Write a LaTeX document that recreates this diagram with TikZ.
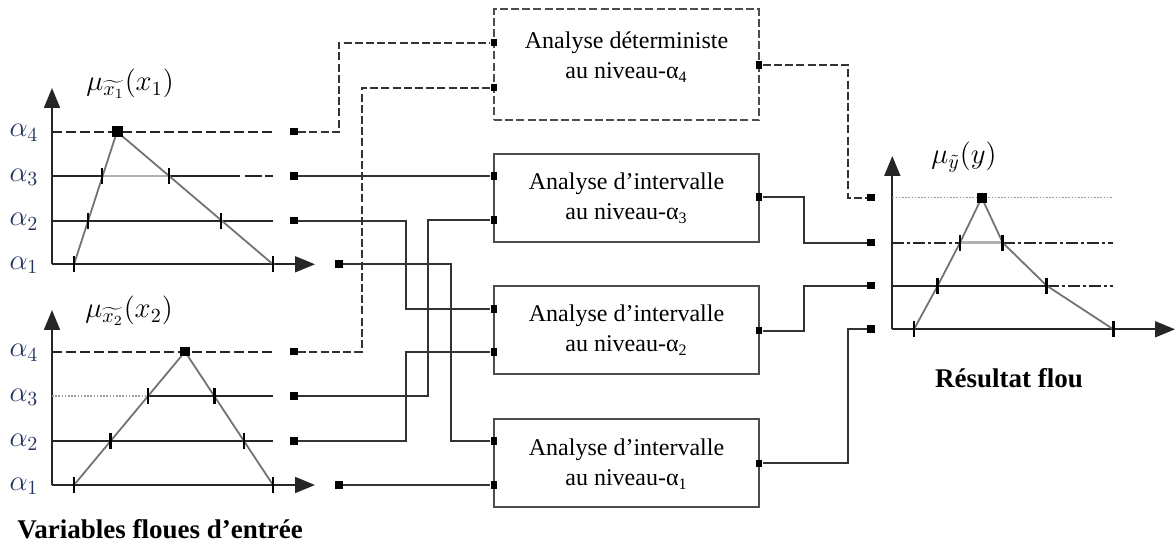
\documentclass[tikz,border=0pt]{standalone}
\usepackage[no-math]{fontspec}
\setmainfont{Liberation Serif}
\usetikzlibrary{arrows.meta}
\definecolor{alabc}{RGB}{38,52,98}
\begin{document}
\begin{tikzpicture}[x=0.5pt,y=-0.5pt,
  conn/.style={draw=black!80, line width=0.9pt},
  dconn/.style={conn, dash pattern=on 4pt off 1.6pt},
  port/.style={fill=black, inner sep=0pt, minimum size=3.8pt},
  bport/.style={fill=black, inner sep=0pt, minimum width=3.4pt, minimum height=3.8pt},
  abox/.style={draw=black!70, line width=1.1pt, minimum width=132.5pt, minimum height=44pt, inner sep=0pt},
  boxtext/.style={align=center, font=\fontsize{12}{15}\selectfont, inner sep=0pt},
  lvl/.style={black!85, line width=0.9pt},
  lightseg/.style={black!30, line width=1.2pt},
  edge/.style={black!55, line width=0.9pt},
  tick/.style={black, line width=1.3pt},
  peak/.style={fill=black, inner sep=0pt, minimum size=5pt},
  axis/.style={black!85, line width=0.9pt, -{Triangle[length=10pt,width=8pt]}},
  alab/.style={text=alabc, anchor=base, font=\fontsize{14}{16}\selectfont, inner sep=0pt},
  mlab/.style={anchor=west, font=\fontsize{14}{16}\selectfont, inner sep=0pt},
  caption/.style={font=\fontsize{13.5}{16}\selectfont\bfseries, inner sep=0pt},
  longdash/.style={dash pattern=on 5pt off 2pt},
  dashdot/.style={dash pattern=on 6pt off 1.5pt on 1.5pt off 1.5pt},
  dotline/.style={black!40, line width=0.8pt, dash pattern=on 0.8pt off 0.8pt},
]
\useasboundingbox (0,0) rectangle (1176,544);

% ---------- input variable x1 ----------
\draw[axis] (52,264.3) -- (52,88);
\draw[axis] (52,264.3) -- (315,264.3);
\draw[lvl, longdash] (52,131.7) -- (273,131.7);
\draw[lvl] (52,176.3) -- (102,176.3);
\draw[lightseg] (102,176.3) -- (169,176.3);
\draw[lvl, dash pattern=on 35.5pt off 2.5pt on 8.5pt off 1.5pt on 5pt] (169,176.3) -- (273,176.3);
\draw[lvl] (52,220.7) -- (273,220.7);
\draw[edge] (74,264.3) -- (117,131.7) -- (273,264.3);
\foreach \x/\y in {74/264.3, 88/220.7, 102/176.3, 169/176.3, 221/220.7, 273/264.3}
  \draw[tick] (\x,\y) ++(0,-8) -- ++(0,16);
\node[peak, minimum size=5.5pt] (pk1) at (117,131.7) {};
\node[mlab] (mu1) at (86,84) {$\mu_{\widetilde{x_1}}(x_1)$};
\node[alab] (a14) at (24,136.7) {$\alpha_4$};
\node[alab] (a13) at (24,181.3) {$\alpha_3$};
\node[alab] (a12) at (24,225.7) {$\alpha_2$};
\node[alab] (a11) at (24,269.3) {$\alpha_1$};

% ---------- input variable x2 ----------
\draw[axis] (52,485) -- (52,310);
\draw[axis] (52,485) -- (315,485);
\draw[lvl, longdash] (52,351.7) -- (273,351.7);
\draw[dotline] (52,396.3) -- (148,396.3);
\draw[lvl] (148,396.3) -- (273,396.3);
\draw[lvl] (52,441) -- (273,441);
\draw[edge] (74,485) -- (185,351.7) -- (273,485);
\foreach \x/\y in {74/485, 110.6/441, 148/396.3, 214.5/396.3, 244/441, 273/485}
  \draw[tick] (\x,\y) ++(0,-8) -- ++(0,16);
\node[peak, minimum size=4.6pt] (pk2) at (185,351.7) {};
\node[mlab] (mu2) at (85,311) {$\mu_{\widetilde{x_2}}(x_2)$};
\node[alab] (a24) at (24,356.7) {$\alpha_4$};
\node[alab] (a23) at (24,401.3) {$\alpha_3$};
\node[alab] (a22) at (24,446) {$\alpha_2$};
\node[alab] (a21) at (24,490) {$\alpha_1$};
\node[caption] (cin) at (160,529) {Variables floues d’entrée};

% ---------- fuzzy output y ----------
\draw[axis] (892.3,329.3) -- (892.3,156);
\draw[axis] (892.3,329.3) -- (1175,329.3);
\draw[dotline] (892.3,197.7) -- (1113,197.7);
\draw[lvl, dashdot] (892.3,242.7) -- (960,242.7);
\draw[lightseg] (960,242.7) -- (1002.7,242.7);
\draw[lvl, dashdot] (1002.7,242.7) -- (1113,242.7);
\draw[lvl] (892.3,285.7) -- (1046.7,285.7);
\draw[lvl, dashdot] (1046.7,285.7) -- (1113,285.7);
\draw[edge] (914,329.3) -- (937.7,285.7) -- (960,242.7) -- (981.7,197.7)
  -- (1002.7,242.7) -- (1046.7,285.7) -- (1113.3,329.3);
\foreach \x/\y in {914/329.3, 937.7/285.7, 960/242.7, 1002.7/242.7, 1046.7/285.7, 1113.3/329.3}
  \draw[tick] (\x,\y) ++(0,-8) -- ++(0,16);
\node[peak] (pk3) at (981.7,197.7) {};
\node[mlab] (mu3) at (931,157) {$\mu_{\tilde{y}}(y)$};
\node[caption] (cout) at (1009,378) {Résultat flou};

% ---------- analysis boxes ----------
\node[abox, dash pattern=on 4pt off 1.6pt, minimum height=55.5pt] (B4) at (626.5,64.7) {};
\node[boxtext] (T4) at (626.5,57) {Analyse déterministe\\au niveau-α\textsubscript{4}};
\node[abox] (B3) at (626.5,198.2) {};
\node[boxtext] (T3) at (626.5,198) {Analyse d’intervalle\\au niveau-α\textsubscript{3}};
\node[abox] (B2) at (626.5,329.7) {};
\node[boxtext] (T2) at (626.5,330) {Analyse d’intervalle\\au niveau-α\textsubscript{2}};
\node[abox] (B1) at (626.5,463.2) {};
\node[boxtext] (T1) at (626.5,464) {Analyse d’intervalle\\au niveau-α\textsubscript{1}};

% box ports
\node[bport] (B4i1) at (494,42.7) {};
\node[bport] (B4i2) at (494,87.7) {};
\node[bport] (B4o)  at (759,65) {};
\node[bport] (B3i1) at (494,176.3) {};
\node[bport] (B3i2) at (494,220) {};
\node[bport] (B3o)  at (759,197.3) {};
\node[bport] (B2i1) at (494,309.3) {};
\node[bport] (B2i2) at (494,352.3) {};
\node[bport] (B2o)  at (759,330.7) {};
\node[bport] (B1i1) at (494,440.7) {};
\node[bport] (B1i2) at (494,485) {};
\node[bport] (B1o)  at (759,463.3) {};

% level ports of the input variables
\node[port] (p14) at (294,131.7) {};
\node[port] (p13) at (294,176.3) {};
\node[port] (p12) at (294,220.7) {};
\node[port] (p11) at (339,264.3) {};
\node[port] (p24) at (294,351.7) {};
\node[port] (p23) at (294,396.3) {};
\node[port] (p22) at (294,441) {};
\node[port] (p21) at (339,485) {};

% level ports of the output
\node[port] (r4) at (871,197.7) {};
\node[port] (r3) at (871,242.7) {};
\node[port] (r2) at (871,285.7) {};
\node[port] (r1) at (871,329.3) {};

% ---------- connectors ----------
\draw[dconn] (p14) -- (339,131.7) |- (B4i1);
\draw[dconn] (p24) -- (361.7,351.7) |- (B4i2);
\draw[conn] (p13) -- (B3i1);
\draw[conn] (p12) -- (406,220.7) |- (B2i1);
\draw[conn] (p23) -- (428,396.3) |- (B3i2);
\draw[conn] (p11) -- (450.7,264.3) |- (B1i1);
\draw[conn] (p22) -- (406,441) |- (B2i2);
\draw[conn] (p21) -- (B1i2);

\draw[dconn] (B4o) -- (848,65) |- (r4);
\draw[conn] (B3o) -- (803.7,197.3) |- (r3);
\draw[conn] (B2o) -- (803.7,330.7) |- (r2);
\draw[conn] (B1o) -- (848,463.3) |- (r1);
\end{tikzpicture}
\end{document}
